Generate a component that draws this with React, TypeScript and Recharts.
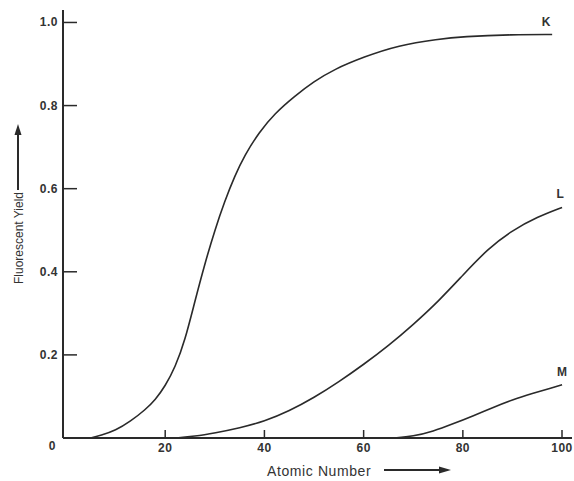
import React from "react";
import { LineChart, Line, XAxis, YAxis, ReferenceDot } from "recharts";

// values
const kAtomic = [5, 7, 10, 13, 16, 18, 20, 22, 24, 26, 28, 30, 32, 34, 36, 39, 42, 46, 50, 54, 60, 67, 75, 80, 90, 98];
const kYield = [0, 0.006, 0.018, 0.04, 0.068, 0.092, 0.125, 0.17, 0.235, 0.33, 0.42, 0.5, 0.57, 0.63, 0.68, 0.737, 0.78, 0.822, 0.858, 0.887, 0.917, 0.945, 0.96, 0.966, 0.971, 0.971];

const lAtomic = [22, 26, 30, 35, 40, 45, 50, 55, 60, 65, 70, 75, 80, 85, 90, 95, 100];
const lYield = [0, 0.004, 0.012, 0.024, 0.04, 0.065, 0.097, 0.135, 0.177, 0.222, 0.273, 0.328, 0.392, 0.455, 0.5, 0.532, 0.555];

const mAtomic = [66, 70, 74, 78, 82, 86, 90, 94, 98, 100];
const mYield = [0, 0.004, 0.016, 0.034, 0.053, 0.073, 0.092, 0.107, 0.121, 0.128];

const atomicTicks = [20, 40, 60, 80, 100];
const yieldTicks = [0, 0.2, 0.4, 0.6, 0.8, 1.0];
const yieldLabels = ["0", "0.2", "0.4", "0.6", "0.8", "1.0"];

const toRows = (xs: number[], ys: number[]) => xs.map((x, i) => ({ x, y: ys[i] }));

const curves = [
  { name: "K", rows: toRows(kAtomic, kYield), dx: -6 },
  { name: "L", rows: toRows(lAtomic, lYield), dx: -2 },
  { name: "M", rows: toRows(mAtomic, mYield), dx: 0 },
];

const ink = "#2a2a2a";
const font = "'Liberation Sans', Arial, sans-serif";

const XTick = (props: any) => {
  const { x, y, payload } = props;
  return (
    <g>
      <line x1={x} y1={y} x2={x} y2={y - 8} stroke={ink} strokeWidth={1.5} />
      <text x={x} y={y + 14} textAnchor="middle" fontSize={12} fontFamily={font} fontWeight="bold" fill="#333" letterSpacing={0.5}>
        {payload.value}
      </text>
    </g>
  );
};

const YTick = (props: any) => {
  const { x, y, payload, index } = props;
  const label = yieldLabels[index] ?? String(payload.value);
  if (payload.value === 0) {
    return (
      <text x={x - 11} y={y + 12} textAnchor="middle" fontSize={12} fontFamily={font} fontWeight="bold" fill="#333">
        {label}
      </text>
    );
  }
  return (
    <g>
      <line x1={x} y1={y} x2={x + 14} y2={y} stroke={ink} strokeWidth={1.5} />
      <text x={x - 5} y={y + 4} textAnchor="end" fontSize={12} fontFamily={font} fontWeight="bold" fill="#333" letterSpacing={0.5}>
        {label}
      </text>
    </g>
  );
};

export default function App() {
  return (
    <div style={{ position: "absolute", left: 0, top: 0, width: 574, height: 481, background: "#fff" }}>
      <LineChart width={574} height={481} margin={{ top: 10, right: 2, left: 0, bottom: 0 }}>
        <XAxis
          type="number"
          dataKey="x"
          domain={[-0.6, 102]}
          ticks={atomicTicks}
          height={43}
          tickSize={0}
          tickMargin={0}
          tick={<XTick />}
          axisLine={{ stroke: ink, strokeWidth: 2 }}
          allowDataOverflow
        />
        <YAxis
          type="number"
          domain={[0, 1.03]}
          ticks={yieldTicks}
          width={63}
          tickSize={0}
          tickMargin={0}
          tick={<YTick />}
          axisLine={{ stroke: ink, strokeWidth: 2 }}
          allowDataOverflow
        />
        {curves.map((c) => (
          <Line
            key={c.name}
            data={c.rows}
            dataKey="y"
            type="basis"
            stroke={ink}
            strokeWidth={1.6}
            dot={false}
            activeDot={false}
            isAnimationActive={false}
          />
        ))}
        {curves.map((c) => {
          const last = c.rows[c.rows.length - 1];
          return (
            <ReferenceDot
              key={"tag" + c.name}
              x={last.x}
              y={last.y}
              r={0}
              ifOverflow="visible"
              label={(p: any) => (
                <text
                  x={p.viewBox.x + c.dx}
                  y={p.viewBox.y - 9}
                  textAnchor="middle"
                  fontSize={12}
                  fontFamily={font}
                  fontWeight="bold"
                  fill="#333"
                >
                  {c.name}
                </text>
              )}
            />
          );
        })}
      </LineChart>
      <svg width={574} height={481} style={{ position: "absolute", left: 0, top: 0, pointerEvents: "none" }}>
        <text
          transform="translate(23,238) rotate(-90)"
          textAnchor="middle"
          fontSize={12}
          fontFamily={font}
          fill="#333"
        >
          Fluorescent Yield
        </text>
        <line x1={18} y1={190} x2={18} y2={133} stroke={ink} strokeWidth={2} />
        <polygon points="18,124 14.5,135 21.5,135" fill={ink} />
        <text x={267} y={476} fontSize={14} fontFamily={font} fill="#333" letterSpacing={0.6}>
          Atomic Number
        </text>
        <line x1={384} y1={470} x2={442} y2={470} stroke={ink} strokeWidth={2} />
        <polygon points="451,470 439,466.5 439,473.5" fill={ink} />
      </svg>
    </div>
  );
}
